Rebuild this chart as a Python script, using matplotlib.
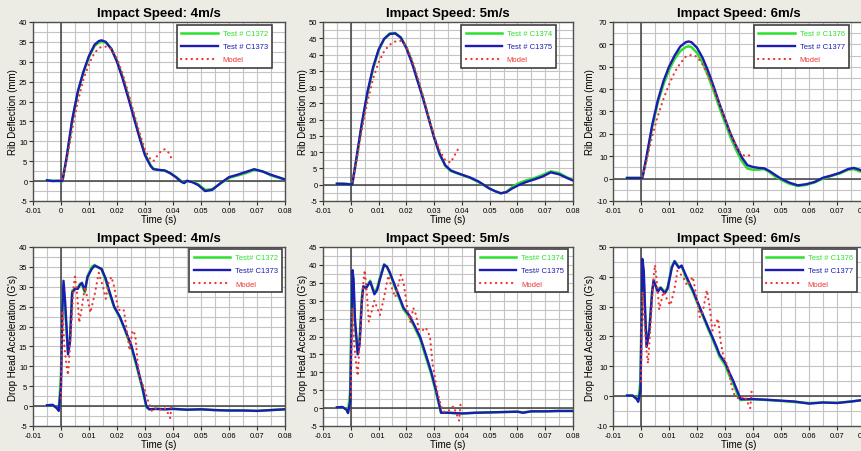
import matplotlib
matplotlib.use('Agg')
import matplotlib.pyplot as plt
from matplotlib.ticker import MultipleLocator, FuncFormatter

plt.rcParams['font.family'] = ['Liberation Sans', 'DejaVu Sans']
plt.rcParams['axes.unicode_minus'] = False

# ---- rib deflection, 4 m/s ----
rib4_t = [-0.005, -0.003, -0.001, 0.0005, 0.002, 0.004, 0.006, 0.008, 0.010, 0.012, 0.0135, 0.0145,
          0.016, 0.018, 0.020, 0.022, 0.024, 0.026, 0.028, 0.030, 0.032, 0.033, 0.035, 0.037, 0.039,
          0.041, 0.043, 0.044, 0.045, 0.047, 0.049, 0.0515, 0.054, 0.057, 0.060, 0.063, 0.066, 0.069,
          0.072, 0.075, 0.078, 0.080]
rib4_c1373 = [0.2, 0.0, 0.1, 0.0, 6, 15.5, 22.5, 27.5, 31.5, 34.3, 35.2, 35.4,
              35.0, 33.2, 30.0, 25.8, 21.0, 16.0, 11.0, 6.5, 3.8, 3.0, 2.8, 2.7, 2.0,
              1.0, -0.2, -0.5, 0.1, -0.3, -1.0, -2.5, -2.2, -0.5, 1.0, 1.6, 2.3, 3.0,
              2.4, 1.6, 0.9, 0.4]
rib4_c1372 = [0.2, 0.1, 0.0, 0.0, 5.5, 15.0, 22.3, 27.3, 31.2, 34.0, 34.8, 35.0,
              34.8, 33.3, 30.3, 26.2, 21.4, 16.4, 11.3, 6.8, 4.0, 3.1, 2.8, 2.6, 2.0,
              1.1, 0.0, -0.4, 0.0, -0.2, -0.8, -2.2, -2.0, -0.6, 0.8, 1.4, 2.0, 2.8,
              2.5, 1.4, 0.8, 0.4]
rib4_model_t = [0.0005, 0.002, 0.004, 0.006, 0.008, 0.010, 0.012, 0.014, 0.016, 0.018, 0.020, 0.022,
                0.024, 0.026, 0.028, 0.030, 0.032, 0.033, 0.0345, 0.036, 0.037, 0.038, 0.039, 0.0395]
rib4_model = [0.5, 5, 13, 20, 25.5, 29.5, 32.3, 33.6, 33.8, 33.2, 30.8, 27.0,
              22.3, 17.2, 12.3, 7.8, 5.4, 5.0, 6.5, 7.8, 8.0, 7.6, 6.5, 5.5]

# ---- rib deflection, 5 m/s ----
rib5_t = [-0.005, -0.003, -0.001, 0.0005, 0.002, 0.004, 0.006, 0.008, 0.010, 0.012, 0.014, 0.016,
          0.018, 0.020, 0.022, 0.024, 0.026, 0.028, 0.030, 0.032, 0.034, 0.036, 0.038, 0.040,
          0.043, 0.046, 0.050, 0.052, 0.054, 0.056, 0.058, 0.060, 0.063, 0.066, 0.069, 0.072,
          0.075, 0.078, 0.080]
rib5_c1375 = [0.3, 0.3, 0.2, 0.0, 8, 19, 28.5, 36, 41.5, 44.8, 46.3, 46.5,
              45.2, 42, 37.5, 32, 26.5, 20.5, 14.5, 9.5, 6, 4.4, 3.7, 3.1,
              2.2, 1.0, -1.2, -2.0, -2.6, -2.3, -1.2, -0.3, 0.8, 1.6, 2.5, 3.8,
              3.2, 2.0, 1.3]
rib5_c1374 = [0.3, 0.3, 0.2, 0.0, 7.5, 18.5, 28, 35.5, 41.2, 44.8, 46.5, 46.6,
              45.3, 42.2, 37.8, 32.4, 26.8, 20.6, 14.4, 9.3, 5.8, 4.2, 3.6, 3.0,
              2.1, 0.8, -1.2, -2.0, -2.7, -2.2, -0.8, 0.3, 1.3, 2.0, 3.0, 4.1,
              3.6, 2.2, 1.5]
rib5_model_t = [0.0005, 0.002, 0.004, 0.006, 0.008, 0.010, 0.012, 0.014, 0.016, 0.018, 0.020,
                0.022, 0.024, 0.026, 0.028, 0.030, 0.032, 0.034, 0.036, 0.037, 0.038, 0.039]
rib5_model = [1, 7, 17, 25.5, 32.5, 37.5, 41, 43, 44, 44.2, 42.5,
              38.5, 33.2, 27.3, 21, 15, 10.5, 7.5, 6.8, 8.5, 10, 11.5]

# ---- rib deflection, 6 m/s ----
rib6_t = [-0.005, -0.003, -0.001, 0.0005, 0.002, 0.004, 0.006, 0.008, 0.010, 0.012, 0.014, 0.016,
          0.017, 0.018, 0.020, 0.022, 0.024, 0.026, 0.028, 0.030, 0.032, 0.034, 0.036, 0.038,
          0.040, 0.042, 0.044, 0.046, 0.048, 0.050, 0.053, 0.056, 0.059, 0.062, 0.065, 0.068,
          0.071, 0.074, 0.076, 0.078, 0.080]
rib6_c1377 = [0.3, 0.3, 0.3, 0.3, 10, 24, 35, 43.5, 50, 55, 59, 61,
              61.3, 61, 58.5, 54, 48, 41, 33.5, 26.7, 20, 14.5, 9.5, 6,
              5.2, 4.8, 4.6, 3.3, 1.6, 0, -1.8, -3, -2.5, -1.5, 0.4, 1.4,
              2.6, 4.3, 4.8, 4.0, 3.0]
rib6_c1376 = [0.3, 0.3, 0.3, 0.3, 9.5, 23, 34, 42, 48.5, 53.5, 57, 58.8,
              59.1, 58.8, 56.2, 51.8, 45.8, 39, 31.8, 25, 18.4, 12.7, 7.8, 4.5,
              4.0, 4.0, 4.3, 2.8, 0.8, -0.5, -2.3, -3.3, -2.8, -1.7, 0.0, 1.2,
              2.3, 4.0, 4.2, 3.3, 2.5]
rib6_model_t = [0.0005, 0.002, 0.004, 0.006, 0.008, 0.010, 0.012, 0.014, 0.016, 0.018, 0.020,
                0.022, 0.024, 0.026, 0.028, 0.030, 0.032, 0.034, 0.036, 0.038, 0.039]
rib6_model = [1, 8, 19, 28, 35.5, 42, 47.5, 51.5, 54.5, 55.3, 54.5,
              51, 46, 40, 33.3, 26.5, 20, 14.5, 10.5, 10.2, 10.5]

# ---- head acceleration, 4 m/s ----
acc4_t = [-0.005, -0.003, -0.0015, -0.0008, 0.0, 0.0005, 0.0009, 0.0015, 0.0025, 0.0032, 0.004,
          0.005, 0.006, 0.0068, 0.0075, 0.0085, 0.0095, 0.011, 0.012, 0.013, 0.0145, 0.016,
          0.017, 0.019, 0.021, 0.023, 0.025, 0.027, 0.029, 0.0305, 0.0315, 0.034, 0.037, 0.040,
          0.045, 0.050, 0.055, 0.060, 0.065, 0.070, 0.075, 0.080]
acc4_c1373 = [0.2, 0.3, -0.5, -1.2, 5, 25, 31.5, 26, 13, 16, 28.5,
              29.5, 29.5, 30.5, 31, 29, 32.5, 34.5, 35.3, 35, 34.5, 32,
              29.5, 25, 22.5, 19, 15.5, 10.5, 5, 0, -0.8, -0.7, -0.8, -0.7,
              -0.9, -0.8, -1.0, -1.1, -1.1, -1.2, -1.0, -0.8]
acc4_c1372 = [0.2, 0.3, -0.5, -1.0, 8, 27, 30, 24, 13.5, 17, 29,
              29.5, 29.8, 30.8, 30.5, 28.5, 32.8, 35, 35.5, 35, 34.3, 31.5,
              29, 24.8, 22.3, 18.8, 15, 10, 4.5, -0.3, -0.8, -0.7, -0.8, -0.7,
              -0.9, -0.8, -1.0, -1.1, -1.1, -1.2, -1.0, -0.8]
acc4_model_t = [0.0, 0.0005, 0.0012, 0.002, 0.0025, 0.0035, 0.0045, 0.005, 0.0058, 0.0065,
                0.0075, 0.0085, 0.0095, 0.0105, 0.012, 0.0135, 0.015, 0.016, 0.017, 0.018,
                0.019, 0.0205, 0.0215, 0.0225, 0.0235, 0.0245, 0.0255, 0.0265, 0.0275, 0.0285,
                0.0295, 0.031, 0.0325, 0.034, 0.036, 0.037, 0.038, 0.039, 0.0395]
acc4_model = [2, 24, 15, 10, 7.8, 18, 30, 32.5, 28, 21,
              25, 30, 27, 23.5, 28, 33.5, 30, 27, 31, 32.5,
              30, 24, 24.5, 24, 19, 14, 19, 18, 10, 6,
              5, 1.5, -1.3, -0.5, -1.0, -0.5, -1.5, -3.0, 0.2]

# ---- head acceleration, 5 m/s ----
acc5_t = [-0.005, -0.003, -0.0015, -0.001, -0.0002, 0.0002, 0.0006, 0.001, 0.0015, 0.0025, 0.0032,
          0.004, 0.0045, 0.0055, 0.007, 0.0085, 0.0095, 0.0105, 0.012, 0.013, 0.014, 0.016,
          0.018, 0.019, 0.021, 0.023, 0.025, 0.027, 0.029, 0.031, 0.0325, 0.035, 0.040, 0.045,
          0.050, 0.055, 0.060, 0.062, 0.065, 0.070, 0.075, 0.080]
acc5_c1375 = [0.2, 0.3, -0.5, -1.4, 2, 20, 38.5, 36, 25, 15, 18,
              30, 34, 33.5, 35.3, 31.8, 33, 36, 40, 39.5, 38, 34,
              30, 28, 26, 23, 19.8, 15, 10, 4, -1.3, -1.3, -1.5, -1.3,
              -1.2, -1.1, -1.0, -1.3, -0.9, -0.9, -0.8, -0.8]
acc5_c1374 = [0.2, 0.3, -0.3, -1.2, 5, 28, 38.5, 34, 23, 15.5, 20,
              31, 34, 33.8, 35.6, 32.3, 33.5, 36.5, 40.2, 39.5, 37.7, 33.5,
              29.5, 27.5, 25.6, 22.5, 19.2, 14.3, 9.4, 3.3, -1.3, -1.3, -1.5, -1.3,
              -1.2, -1.1, -1.0, -1.2, -0.9, -0.9, -0.8, -0.8]
acc5_model_t = [0.0, 0.0005, 0.0012, 0.002, 0.0025, 0.0035, 0.0045, 0.005, 0.0058, 0.0065,
                0.0075, 0.0085, 0.0095, 0.0105, 0.012, 0.0135, 0.015, 0.016, 0.017, 0.018,
                0.019, 0.0205, 0.0215, 0.0225, 0.0235, 0.0245, 0.0255, 0.027, 0.0285, 0.0295,
                0.030, 0.031, 0.0325, 0.0335, 0.035, 0.036, 0.037, 0.038, 0.039, 0.0395]
acc5_model = [3, 28, 18, 12, 9, 22, 35, 38.5, 32, 24.2,
              27, 30, 28, 26, 31, 37, 33, 31, 34, 37.2,
              35, 27, 24, 28, 26, 22, 21.5, 22.5, 20, 12,
              10, 5, 0.5, -1, -1, 0, 0.5, -1.5, -3.5, 1.0]

# ---- head acceleration, 6 m/s ----
acc6_t = [-0.005, -0.003, -0.0015, -0.001, -0.0002, 0.0002, 0.0005, 0.001, 0.0015, 0.002, 0.003,
          0.004, 0.0045, 0.006, 0.007, 0.0085, 0.0095, 0.011, 0.012, 0.0135, 0.0145, 0.016,
          0.017, 0.0185, 0.020, 0.022, 0.024, 0.0255, 0.027, 0.028, 0.030, 0.0315, 0.033,
          0.0345, 0.0355, 0.040, 0.045, 0.050, 0.055, 0.060, 0.065, 0.070, 0.075, 0.080]
acc6_c1377 = [0.2, 0.2, -1, -1.9, 2, 25, 46, 42, 28, 16.5, 22,
              35, 38.8, 35, 36.3, 34.5, 36, 43, 45.2, 43, 43.8, 40.5,
              38.5, 35.5, 32, 27.5, 23, 19.8, 16.5, 14, 11.3, 8, 5,
              1.5, -1, -1, -1.2, -1.5, -1.8, -2.5, -2.1, -2.3, -1.8, -1.2]
acc6_c1376 = [0.2, 0.2, -0.8, -1.6, 5, 30, 44, 38, 26, 17, 23,
              35.5, 38.5, 35.5, 36.5, 35, 36.5, 43.5, 45.3, 43.3, 43.5, 40,
              37.8, 35, 31.5, 27, 22.5, 19.2, 15.8, 13.3, 10.5, 7, 4,
              0.5, -1.3, -1, -1.3, -1.6, -2, -2.3, -2.2, -2.2, -1.8, -1.2]
acc6_model_t = [0.0, 0.0005, 0.0012, 0.002, 0.0025, 0.0035, 0.0045, 0.005, 0.0058, 0.0065,
                0.0075, 0.008, 0.009, 0.0105, 0.012, 0.013, 0.015, 0.0165, 0.0175, 0.0185,
                0.0195, 0.021, 0.022, 0.0235, 0.0245, 0.0255, 0.0265, 0.0275, 0.0285, 0.0295,
                0.031, 0.032, 0.033, 0.035, 0.037, 0.038, 0.039, 0.0395]
acc6_model = [5, 35, 25, 15, 11, 25, 40, 44, 37, 29,
              33, 35, 33, 30.5, 36, 42, 40, 37, 38.5, 40,
              35, 26.5, 28, 35.5, 30, 22, 24, 26, 18, 13,
              10, 5, 1, -1, 0, -2, -4, 1.5]

GREEN = '#2ee02e'
BLUE = '#1c1cb0'
RED = '#ee3333'
BG = '#ecebe4'


def format_time(value, pos):
    if abs(value) < 1e-9:
        return '0'
    return '{:.2f}'.format(value)


def draw_panel(ax, title, ylabel, ylim, ystep, t, green, blue, model_t, model, labels, anchor):
    ax.set_facecolor('white')
    ax.plot(t, green, color=GREEN, lw=1.8, zorder=3, label=labels[0])
    ax.plot(t, blue, color=BLUE, lw=1.7, zorder=4, label=labels[1])
    ax.plot(model_t, model, color=RED, lw=1.6, ls=(0, (0.1, 2.3)), dash_capstyle='round',
            zorder=5, label='Model')
    ax.axhline(0, color='#404040', lw=1.1, zorder=2)
    ax.axvline(0, color='#404040', lw=1.1, zorder=2)
    ax.set_xlim(-0.01, 0.08)
    ax.set_ylim(*ylim)
    ax.xaxis.set_major_locator(MultipleLocator(0.01))
    ax.xaxis.set_minor_locator(MultipleLocator(0.005))
    ax.yaxis.set_major_locator(MultipleLocator(ystep))
    ax.yaxis.set_minor_locator(MultipleLocator(ystep / 2))
    ax.xaxis.set_major_formatter(FuncFormatter(format_time))
    ax.grid(True, which='both', color='#c4c4c4', lw=0.8, zorder=0)
    ax.set_axisbelow(True)
    ax.tick_params(which='major', direction='out', length=3, width=0.8, labelsize=5.5, pad=1,
                   colors='#303030', labelcolor='black')
    ax.tick_params(which='minor', length=0)
    for s in ax.spines.values():
        s.set_color('#505050')
        s.set_linewidth(1.0)
    ax.set_title(title, fontsize=9.5, fontweight='bold', pad=4)
    ax.set_xlabel('Time (s)', fontsize=7, labelpad=0)
    ax.set_ylabel(ylabel, fontsize=7, labelpad=1)
    leg = ax.legend(loc='upper right', bbox_to_anchor=anchor, fontsize=5.5, labelcolor='linecolor',
                    handlelength=4.8, handletextpad=0.6, borderpad=0.6, labelspacing=0.75,
                    fancybox=False, framealpha=1, borderaxespad=0.2)
    leg.get_frame().set_edgecolor('#404040')
    leg.get_frame().set_linewidth(1.2)


fig = plt.figure(figsize=(8.62, 4.52), dpi=100, facecolor=BG)
W, H = 862.0, 452.0
lefts = [33, 323, 613]
widths = [252, 250, 252]
rows = [(23, 202), (248, 427)]


def make_axes(col, row):
    top, bottom = rows[row]
    return fig.add_axes([lefts[col] / W, 1 - bottom / H, widths[col] / W, (bottom - top) / H])


draw_panel(make_axes(0, 0), 'Impact Speed: 4m/s', 'Rib Deflection (mm)', (-5, 40), 5,
           rib4_t, rib4_c1372, rib4_c1373, rib4_model_t, rib4_model,
           ['Test # C1372', 'Test # C1373'], (0.956, 0.99))
draw_panel(make_axes(1, 0), 'Impact Speed: 5m/s', 'Rib Deflection (mm)', (-5, 50), 5,
           rib5_t, rib5_c1374, rib5_c1375, rib5_model_t, rib5_model,
           ['Test # C1374', 'Test # C1375'], (0.94, 0.99))
draw_panel(make_axes(2, 0), 'Impact Speed: 6m/s', 'Rib Deflection (mm)', (-10, 70), 10,
           rib6_t, rib6_c1376, rib6_c1377, rib6_model_t, rib6_model,
           ['Test # C1376', 'Test # C1377'], (0.944, 0.99))
draw_panel(make_axes(0, 1), 'Impact Speed: 4m/s', "Drop Head Acceleration (G's)", (-5, 40), 5,
           acc4_t, acc4_c1372, acc4_c1373, acc4_model_t, acc4_model,
           ['Test# C1372', 'Test# C1373'], (0.996, 0.995))
draw_panel(make_axes(1, 1), 'Impact Speed: 5m/s', "Drop Head Acceleration (G's)", (-5, 45), 5,
           acc5_t, acc5_c1374, acc5_c1375, acc5_model_t, acc5_model,
           ['Test# C1374', 'Test# C1375'], (0.988, 0.995))
draw_panel(make_axes(2, 1), 'Impact Speed: 6m/s', "Drop Head Acceleration (G's)", (-10, 50), 10,
           acc6_t, acc6_c1376, acc6_c1377, acc6_model_t, acc6_model,
           ['Test # C1376', 'Test # C1377'], (0.976, 0.995))

fig.savefig('out.png', dpi=100, facecolor=BG)
